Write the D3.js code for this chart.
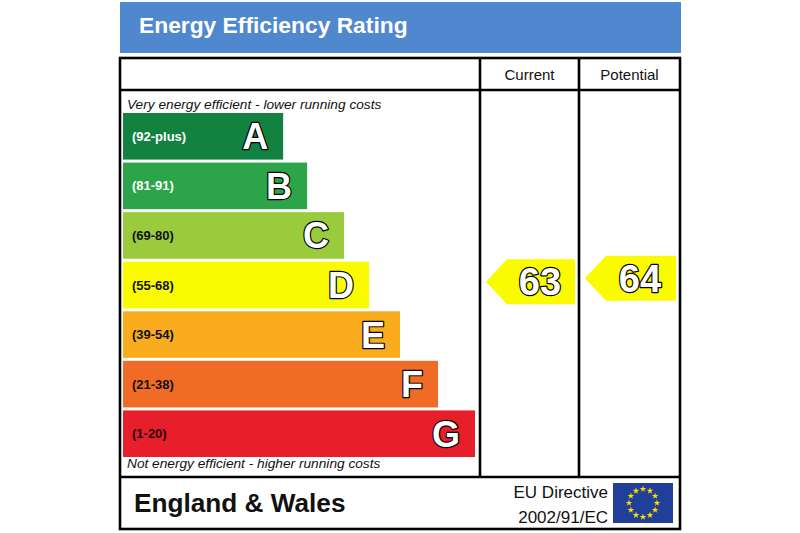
<!DOCTYPE html>
<html><head><meta charset="utf-8">
<script src="https://cdn.jsdelivr.net/npm/d3@7"></script>
<style>html,body{margin:0;padding:0;background:#fff;}svg{display:block;}</style>
</head><body>
<svg id="chart" width="800" height="533"></svg>
<script>
// ---- data ----
const bandLetters = ["A","B","C","D","E","F","G"];
const bandRanges  = ["(92-plus)","(81-91)","(69-80)","(55-68)","(39-54)","(21-38)","(1-20)"];
const bandMin     = [92,81,69,55,39,21,1];
const bandMax     = [100,91,80,68,54,38,20];
const bandLength  = [45.5,52.3,62.8,69.9,78.7,89.5,100]; // relative bar length
const bandColors  = ["#138241","#2ca54a","#9acb3c","#fbfb00","#f8ac1e","#ef6b26","#e61f2a"];
const labelColors = ["#ffffff","#ffffff","#111111","#111111","#111111","#111111","#2a0a0a"];
const ratingColumns = ["Current","Potential"];
const ratingValues  = [63,64];
const titleText = "Energy Efficiency Rating";
const topNote = "Very energy efficient - lower running costs";
const bottomNote = "Not energy efficient - higher running costs";
const regionText = "England & Wales";
const directiveLines = ["EU Directive","2002/91/EC"];

const svg = d3.select("#chart");
const FONT = "'Liberation Sans', Arial, sans-serif";

// layout
const box = {x0:120, x1:680, y0:58, y1:529, header:90, footer:477};
const colX = [480,579,680];

// title bar
svg.append("rect").attr("x",120).attr("y",2).attr("width",561).attr("height",51).attr("fill","#4f88cf");
svg.append("text").attr("x",139).attr("y",33).attr("fill","#fff")
  .attr("font-family",FONT).attr("font-weight","bold").attr("font-size",22.8).text(titleText);

// scales
const y = d3.scaleBand().domain(bandLetters).range([113,457]).paddingInner(0.06).paddingOuter(0);
const x = d3.scaleLinear().domain([0,100]).range([123,475]);

// bars
const bands = bandLetters.map((l,i)=>({letter:l, range:bandRanges[i], len:bandLength[i], color:bandColors[i], lc:labelColors[i], min:bandMin[i], max:bandMax[i]}));
const g = svg.append("g");
g.selectAll("rect.bar").data(bands).join("rect").attr("class","bar")
  .attr("x",x(0)).attr("y",d=>y(d.letter)).attr("width",d=>x(d.len)-x(0)).attr("height",y.bandwidth())
  .attr("fill",d=>d.color);
g.selectAll("text.range").data(bands).join("text").attr("class","range")
  .attr("x",132).attr("y",d=>y(d.letter)+y.bandwidth()/2+4.5)
  .attr("font-family",FONT).attr("font-weight","bold").attr("font-size",13)
  .attr("fill",d=>d.lc).text(d=>d.range);
g.selectAll("text.letter").data(bands).join("text").attr("class","letter")
  .attr("x",d=>x(d.len)-15).attr("y",d=>y(d.letter)+y.bandwidth()/2+13)
  .attr("text-anchor","end")
  .attr("font-family",FONT).attr("font-weight","bold").attr("font-size",36)
  .attr("fill","#fff").attr("stroke","#000").attr("stroke-width",2.4).attr("paint-order","stroke")
  .attr("stroke-linejoin","round").text(d=>d.letter);

svg.append("text").attr("x",127).attr("y",109).attr("font-family",FONT).attr("font-style","italic")
  .attr("font-size",13.7).attr("fill","#111").text(topNote);
svg.append("text").attr("x",127).attr("y",468).attr("font-family",FONT).attr("font-style","italic")
  .attr("font-size",13.7).attr("fill","#111").text(bottomNote);

// rating arrows
function ratingY(v){
  const b = bands.find(d=>v>=d.min && v<=d.max);
  const s = d3.scaleLinear().domain([b.max+1,b.min]).range([y(b.letter), y(b.letter)+y.bandwidth()]);
  return s(v);
}
const arrowH = 45, pointW = 21;
ratingColumns.forEach((c,i)=>{
  const v = ratingValues[i];
  const b = bands.find(d=>v>=d.min && v<=d.max);
  const cy = ratingY(v);
  const xl = colX[i]+6, xr = colX[i+1]-4;
  const pts = [[xl,cy],[xl+pointW,cy-arrowH/2],[xr,cy-arrowH/2],[xr,cy+arrowH/2],[xl+pointW,cy+arrowH/2]];
  svg.append("path").attr("d",d3.line()(pts)+"Z").attr("fill",b.color);
  svg.append("text").attr("x",(xl+pointW+xr)/2-1).attr("y",cy+13.5).attr("text-anchor","middle")
    .attr("font-family",FONT).attr("font-weight","bold").attr("font-size",38)
    .attr("fill","#fff").attr("stroke","#000").attr("stroke-width",2.4).attr("paint-order","stroke")
    .attr("stroke-linejoin","round").text(v);
  svg.append("text").attr("x",(colX[i]+colX[i+1])/2).attr("y",80).attr("text-anchor","middle")
    .attr("font-family",FONT).attr("font-size",15).attr("fill","#111").text(c);
});

// frame lines
const lw = 2.6;
svg.append("rect").attr("x",box.x0).attr("y",box.y0).attr("width",box.x1-box.x0).attr("height",box.y1-box.y0)
  .attr("fill","none").attr("stroke","#000").attr("stroke-width",lw);
svg.append("line").attr("x1",box.x0).attr("x2",box.x1).attr("y1",box.header).attr("y2",box.header).attr("stroke","#000").attr("stroke-width",lw);
svg.append("line").attr("x1",box.x0).attr("x2",box.x1).attr("y1",box.footer).attr("y2",box.footer).attr("stroke","#000").attr("stroke-width",lw);
[colX[0],colX[1]].forEach(cx=>{
  svg.append("line").attr("x1",cx).attr("x2",cx).attr("y1",box.y0).attr("y2",box.footer).attr("stroke","#000").attr("stroke-width",lw);
});

// footer
svg.append("text").attr("x",134).attr("y",512).attr("font-family",FONT).attr("font-weight","bold")
  .attr("font-size",26.2).attr("fill","#111").text(regionText);
directiveLines.forEach((t,i)=>{
  svg.append("text").attr("x",608).attr("y",498+i*25).attr("text-anchor","end")
    .attr("font-family",FONT).attr("font-size",17).attr("fill","#111").text(t);
});
// EU flag
const flag = {x:613,y:483,w:60,h:40};
svg.append("rect").attr("x",flag.x).attr("y",flag.y).attr("width",flag.w).attr("height",flag.h).attr("fill","#1f3f98");
const star = d3.symbol().type(d3.symbolStar).size(14);
d3.range(12).forEach(k=>{
  const a = k*Math.PI/6;
  const cx = flag.x+flag.w/2 + 14*Math.sin(a), cy = flag.y+flag.h/2 - 14*Math.cos(a);
  svg.append("path").attr("d",star()).attr("transform",`translate(${cx},${cy})`).attr("fill","#ffdd00");
});
</script>
</body></html>
